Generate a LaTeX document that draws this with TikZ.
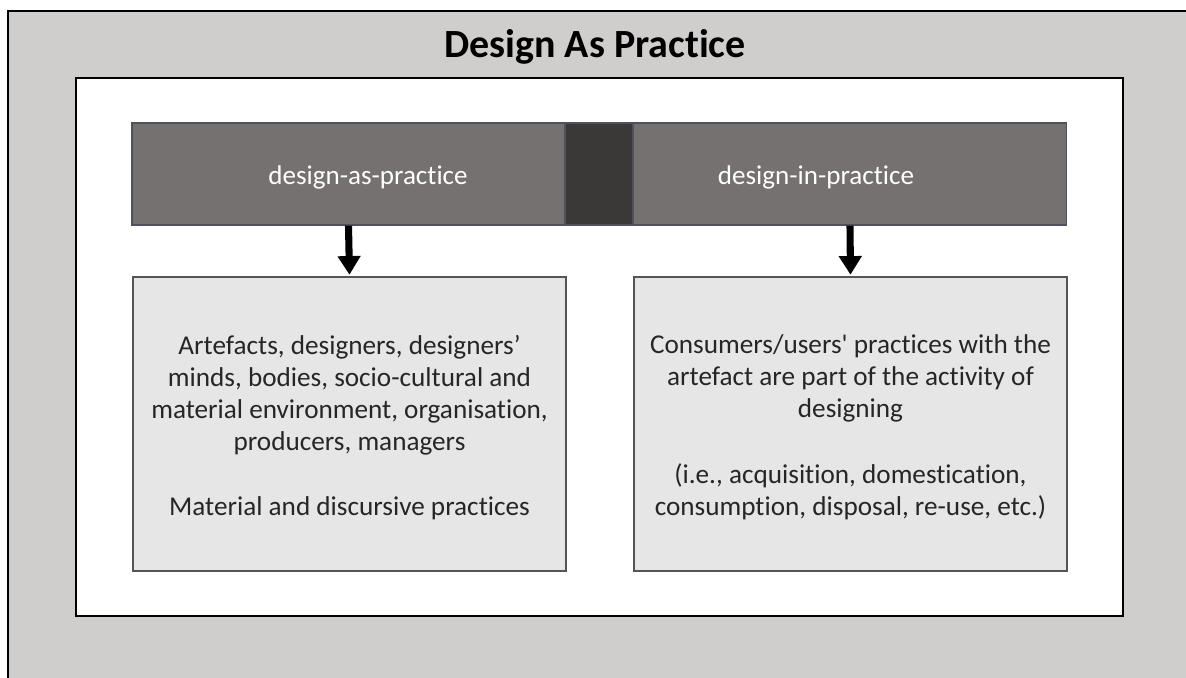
\documentclass[tikz,border=0pt]{standalone}
\usepackage{fontspec}
\setmainfont{Carlito}[Ligatures=NoCommon]
\usetikzlibrary{positioning, arrows.meta}
\definecolor{framegray}{HTML}{D0CECC}
\definecolor{bargray}{HTML}{767171}
\definecolor{bardark}{HTML}{3B3838}
\definecolor{boxgray}{HTML}{E7E6E6}
\definecolor{edgegray}{HTML}{555555}
\definecolor{baredge}{HTML}{50515E}
\tikzset{
bar/.style={shape=rectangle, draw=baredge, line width=0.9pt, fill=bargray, minimum height=76.5pt, minimum width=324.75pt, inner sep=0}, joint/.style={bar, fill=bardark, minimum width=51pt}, bartext/.style={text=white, font=\fontsize{20.3}{24}\selectfont, inner sep=0}, note/.style={shape=rectangle, draw=edgegray, line width=1.4pt, fill=boxgray, minimum width=324.75pt, minimum height=220.5pt, inner sep=0}, notetext/.style={align=center, text=black!85, font=\fontsize{20.4}{24}\selectfont, inner sep=0}, down/.style={-{Triangle[width=16.5pt, length=14pt]}, line width=5.3pt, shorten >=1pt}}

\begin{document}
\begin{tikzpicture}[x=0.75pt, y=-0.75pt]
\useasboundingbox (0,0) rectangle (1186,678);
\draw [fill=framegray, line width=1.5pt] (8,11) rectangle (1200,700);
\draw [fill=white, line width=1.5pt] (76,78) rectangle (1123,616);
\node [font=\bfseries\fontsize{30}{36}\selectfont] (title) at (595,47) {Design As Practice};
\node [bar] (asp) at (348.5,174) {};
\node [joint] (mid) at (599,174) {};
\node [bar] (dip) at (850,174) {};
\node [bartext] (asptxt) at (368,177) {design-as-practice};
\node [bartext] (diptxt) at (816,177) {design-in-practice};
\node [note] (aspbox) at (349.5,424) {};
\node [note] (dipbox) at (850.5,424) {};
\node [notetext] (aspnote) at (349.5,428) {Artefacts, designers, designers’\\minds, bodies, socio-cultural and\\material environment, organisation,\\producers, managers\\[24.75pt]Material and discursive practices};
\node [notetext] (dipnote) at (850.5,427) {Consumers/users\textquotesingle{} practices with the\\artefact are part of the activity of\\designing\\[25.5pt](i.e., acquisition, domestication,\\consumption, disposal, re-use, etc.)};
\draw [down] (asp.south) -- (aspbox.north);
\draw [down] (dip.south) -- (dipbox.north);
\end{tikzpicture}
\end{document}
